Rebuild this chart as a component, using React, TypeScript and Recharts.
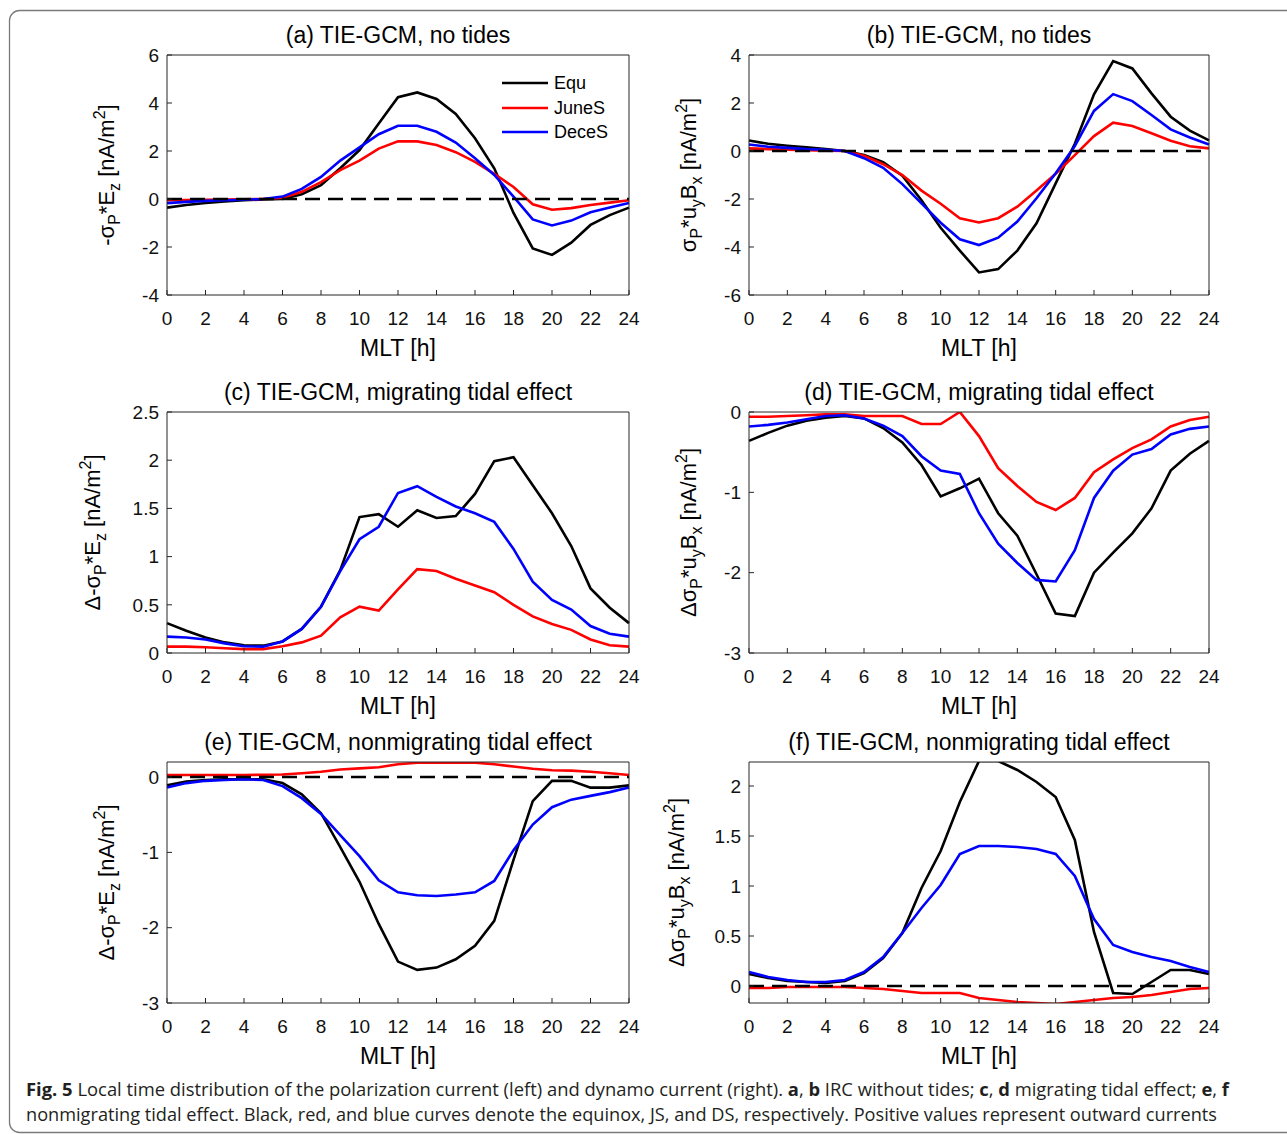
import React from "react";
import { LineChart, Line, XAxis, YAxis, ReferenceLine, Legend } from "recharts";

const FONT = "'Liberation Sans', Arial, Helvetica, sans-serif";

// local time axis
const hours = [0, 1, 2, 3, 4, 5, 6, 7, 8, 9, 10, 11, 12, 13, 14, 15, 16, 17, 18, 19, 20, 21, 22, 23, 24];
const xTicks = [0, 2, 4, 6, 8, 10, 12, 14, 16, 18, 20, 22, 24];

const seriesNames = ["Equ", "JuneS", "DeceS"];
const seriesColors = ["#000000", "#ff0000", "#0000ff"];

// (a) polarization current, no tides
const aEqu = [-0.36, -0.25, -0.17, -0.1, -0.05, -0.02, 0.0, 0.2, 0.58, 1.28, 2.04, 3.15, 4.24, 4.44, 4.17, 3.54, 2.53, 1.28, -0.58, -2.06, -2.33, -1.82, -1.08, -0.67, -0.36];
const aJune = [-0.05, -0.04, -0.03, -0.02, -0.01, 0.0, 0.05, 0.3, 0.7, 1.2, 1.6, 2.1, 2.4, 2.4, 2.25, 1.95, 1.55, 1.05, 0.5, -0.22, -0.45, -0.38, -0.25, -0.15, -0.05];
const aDece = [-0.17, -0.12, -0.08, -0.05, -0.03, 0.0, 0.1, 0.42, 0.92, 1.6, 2.15, 2.7, 3.05, 3.05, 2.8, 2.35, 1.7, 1.0, 0.1, -0.85, -1.1, -0.9, -0.55, -0.35, -0.17];

// (b) dynamo current, no tides
const bEqu = [0.44, 0.3, 0.22, 0.15, 0.08, 0.0, -0.17, -0.47, -1.03, -2.05, -3.2, -4.15, -5.06, -4.92, -4.15, -3.01, -1.35, 0.3, 2.36, 3.75, 3.44, 2.4, 1.43, 0.85, 0.44];
const bJune = [0.11, 0.08, 0.05, 0.03, 0.01, 0.0, -0.2, -0.55, -1.0, -1.65, -2.2, -2.8, -2.98, -2.8, -2.32, -1.65, -0.95, -0.17, 0.62, 1.18, 1.04, 0.74, 0.43, 0.2, 0.11];
const bDece = [0.27, 0.18, 0.13, 0.08, 0.05, 0.0, -0.3, -0.7, -1.38, -2.18, -2.99, -3.68, -3.92, -3.61, -2.94, -1.97, -0.93, 0.21, 1.67, 2.37, 2.08, 1.5, 0.9, 0.56, 0.27];

// (c) polarization current, migrating tidal effect
const cEqu = [0.31, 0.23, 0.16, 0.11, 0.08, 0.076, 0.12, 0.25, 0.48, 0.86, 1.41, 1.44, 1.31, 1.48, 1.4, 1.42, 1.65, 1.99, 2.03, 1.74, 1.45, 1.11, 0.67, 0.47, 0.31];
const cJune = [0.066, 0.066, 0.06, 0.05, 0.04, 0.04, 0.07, 0.11, 0.18, 0.37, 0.48, 0.44, 0.66, 0.87, 0.85, 0.77, 0.7, 0.63, 0.5, 0.38, 0.3, 0.24, 0.14, 0.08, 0.066];
const cDece = [0.17, 0.16, 0.14, 0.1, 0.07, 0.066, 0.12, 0.25, 0.48, 0.85, 1.18, 1.31, 1.66, 1.73, 1.62, 1.52, 1.45, 1.36, 1.08, 0.74, 0.55, 0.45, 0.28, 0.2, 0.17];

// (d) dynamo current, migrating tidal effect
const dEqu = [-0.36, -0.26, -0.17, -0.11, -0.07, -0.05, -0.08, -0.2, -0.38, -0.66, -1.05, -0.95, -0.83, -1.26, -1.54, -2.02, -2.51, -2.54, -2.0, -1.75, -1.51, -1.2, -0.73, -0.52, -0.36];
const dJune = [-0.06, -0.06, -0.05, -0.04, -0.03, -0.03, -0.05, -0.05, -0.05, -0.15, -0.15, 0.0, -0.3, -0.7, -0.92, -1.12, -1.22, -1.07, -0.75, -0.59, -0.45, -0.34, -0.18, -0.1, -0.06];
const dDece = [-0.18, -0.16, -0.13, -0.09, -0.05, -0.04, -0.08, -0.17, -0.3, -0.55, -0.73, -0.77, -1.26, -1.64, -1.88, -2.09, -2.11, -1.72, -1.07, -0.73, -0.53, -0.46, -0.28, -0.21, -0.18];

// (e) polarization current, nonmigrating tidal effect
const eEqu = [-0.11, -0.06, -0.04, -0.03, -0.03, -0.03, -0.08, -0.23, -0.48, -0.93, -1.39, -1.95, -2.45, -2.56, -2.53, -2.42, -2.24, -1.91, -1.1, -0.32, -0.05, -0.05, -0.14, -0.14, -0.11];
const eJune = [0.027, 0.027, 0.027, 0.027, 0.027, 0.03, 0.035, 0.05, 0.07, 0.1, 0.115, 0.13, 0.17, 0.19, 0.19, 0.19, 0.19, 0.17, 0.14, 0.11, 0.09, 0.085, 0.07, 0.05, 0.027];
const eDece = [-0.14, -0.08, -0.05, -0.04, -0.03, -0.04, -0.12, -0.28, -0.49, -0.77, -1.05, -1.37, -1.53, -1.57, -1.58, -1.56, -1.53, -1.38, -0.97, -0.63, -0.4, -0.3, -0.25, -0.2, -0.14];

// (f) dynamo current, nonmigrating tidal effect
const fEqu = [0.12, 0.08, 0.05, 0.04, 0.03, 0.05, 0.13, 0.28, 0.53, 0.98, 1.35, 1.84, 2.25, 2.25, 2.16, 2.04, 1.89, 1.46, 0.54, -0.07, -0.08, 0.04, 0.16, 0.16, 0.12];
const fJune = [-0.02, -0.02, -0.01, -0.01, -0.01, -0.01, -0.02, -0.03, -0.05, -0.07, -0.07, -0.07, -0.12, -0.14, -0.16, -0.17, -0.18, -0.16, -0.14, -0.12, -0.11, -0.09, -0.06, -0.03, -0.02];
const fDece = [0.14, 0.09, 0.06, 0.04, 0.04, 0.06, 0.14, 0.29, 0.53, 0.78, 1.01, 1.32, 1.4, 1.4, 1.39, 1.37, 1.32, 1.1, 0.67, 0.41, 0.34, 0.29, 0.25, 0.19, 0.14];

type Part = { t: string; s?: "sub" | "sup" };

const labelPolar: Part[] = [{ t: "-σ" }, { t: "P", s: "sub" }, { t: "*E" }, { t: "z", s: "sub" }, { t: " [nA/m" }, { t: "2", s: "sup" }, { t: "]" }];
const labelDynamo: Part[] = [{ t: "σ" }, { t: "P", s: "sub" }, { t: "*u" }, { t: "y", s: "sub" }, { t: "B" }, { t: "x", s: "sub" }, { t: " [nA/m" }, { t: "2", s: "sup" }, { t: "]" }];
const labelDPolar: Part[] = [{ t: "Δ-σ" }, { t: "P", s: "sub" }, { t: "*E" }, { t: "z", s: "sub" }, { t: " [nA/m" }, { t: "2", s: "sup" }, { t: "]" }];
const labelDDynamo: Part[] = [{ t: "Δσ" }, { t: "P", s: "sub" }, { t: "*u" }, { t: "y", s: "sub" }, { t: "B" }, { t: "x", s: "sub" }, { t: " [nA/m" }, { t: "2", s: "sup" }, { t: "]" }];

const panels = [
  { id: "a", title: "(a) TIE-GCM, no tides", yLabel: labelPolar, values: [aEqu, aJune, aDece], domain: [-4, 6], ticks: [-4, -2, 0, 2, 4, 6], zero: true, legend: true, x0: 167, y0: 55, w: 462, h: 240, labelX: 114 },
  { id: "b", title: "(b) TIE-GCM, no tides", yLabel: labelDynamo, values: [bEqu, bJune, bDece], domain: [-6, 4], ticks: [-6, -4, -2, 0, 2, 4], zero: true, legend: false, x0: 749, y0: 55, w: 460, h: 240, labelX: 696 },
  { id: "c", title: "(c) TIE-GCM, migrating tidal effect", yLabel: labelDPolar, values: [cEqu, cJune, cDece], domain: [0, 2.5], ticks: [0, 0.5, 1, 1.5, 2, 2.5], zero: false, legend: false, x0: 167, y0: 412, w: 462, h: 241, labelX: 100 },
  { id: "d", title: "(d) TIE-GCM, migrating tidal effect", yLabel: labelDDynamo, values: [dEqu, dJune, dDece], domain: [-3, 0], ticks: [-3, -2, -1, 0], zero: false, legend: false, x0: 749, y0: 412, w: 460, h: 241, labelX: 696 },
  { id: "e", title: "(e) TIE-GCM, nonmigrating tidal effect", yLabel: labelDPolar, values: [eEqu, eJune, eDece], domain: [-3, 0.2], ticks: [-3, -2, -1, 0], zero: true, legend: false, x0: 167, y0: 762, w: 462, h: 241, labelX: 114 },
  { id: "f", title: "(f) TIE-GCM, nonmigrating tidal effect", yLabel: labelDDynamo, values: [fEqu, fJune, fDece], domain: [-0.17, 2.24], ticks: [0, 0.5, 1, 1.5, 2], zero: true, legend: false, x0: 749, y0: 762, w: 460, h: 241, labelX: 684 },
];

const PAD_L = 100;
const PAD_T = 50;
const PAD_R = 15;
const PAD_B = 70;
const AXIS = "#262626";
const tickStyle = { fontSize: 19, fill: "#111", fontFamily: FONT };

function YLabel({ x, y, parts }: { x: number; y: number; parts: Part[] }) {
  let shift = 0;
  return (
    <text transform={`translate(${x},${y}) rotate(-90)`} textAnchor="middle" fontSize={22} fill="#000" fontFamily={FONT}>
      {parts.map((p, i) => {
        const target = p.s === "sub" ? 6 : p.s === "sup" ? -9 : 0;
        const dy = target - shift;
        shift = target;
        return (
          <tspan key={i} dy={dy} fontSize={p.s ? 16 : 22}>
            {p.t}
          </tspan>
        );
      })}
    </text>
  );
}

const renderLegend = (props: any) => {
  const items = [...(props.payload || [])].sort(
    (a: any, b: any) => seriesNames.indexOf(a.value) - seriesNames.indexOf(b.value)
  );
  return (
    <div style={{ fontFamily: FONT, fontSize: 18, color: "#000" }}>
      {items.map((it: any) => (
        <div key={it.value} style={{ display: "flex", alignItems: "center", height: 24.5 }}>
          <svg width={46} height={6}>
            <line x1={0} x2={46} y1={3} y2={3} stroke={it.color} strokeWidth={2.5} />
          </svg>
          <span style={{ marginLeft: 6, lineHeight: "18px" }}>{it.value}</span>
        </div>
      ))}
    </div>
  );
};

function Panel({ p }: { p: (typeof panels)[number] }) {
  const data = hours.map((h, i) => ({
    mlt: h,
    Equ: p.values[0][i],
    JuneS: p.values[1][i],
    DeceS: p.values[2][i],
  }));
  const left = p.x0 - PAD_L;
  const top = p.y0 - PAD_T;
  const width = p.w + PAD_L + PAD_R;
  const height = p.h + PAD_T + PAD_B;
  return (
    <div style={{ position: "absolute", left, top }}>
      <LineChart width={width} height={height} data={data} margin={{ top: PAD_T - 1, right: PAD_R - 1, bottom: 0, left: 0 }}>
        <XAxis
          dataKey="mlt"
          type="number"
          domain={[0, 24]}
          ticks={xTicks}
          interval={0}
          height={PAD_B}
          stroke={AXIS}
          tickSize={-5}
          tickMargin={22}
          tick={tickStyle}
          label={{ value: "MLT [h]", position: "insideBottom", offset: 9, fontSize: 23, fill: "#000", fontFamily: FONT }}
        />
        <XAxis
          xAxisId="top"
          dataKey="mlt"
          type="number"
          orientation="top"
          domain={[0, 24]}
          ticks={xTicks}
          interval={0}
          height={1}
          stroke={AXIS}
          tickSize={-5}
          tick={false}
          label={{ value: p.title, position: "top", offset: 11, fontSize: 23, fill: "#000", fontFamily: FONT }}
        />
        <YAxis
          type="number"
          domain={p.domain}
          ticks={p.ticks}
          interval={0}
          allowDataOverflow
          width={PAD_L}
          stroke={AXIS}
          tickSize={-5}
          tickMargin={13}
          tick={tickStyle}
          label={{ content: () => <YLabel x={p.labelX - left} y={PAD_T + p.h / 2} parts={p.yLabel} /> }}
        />
        <YAxis
          yAxisId="right"
          orientation="right"
          type="number"
          domain={p.domain}
          ticks={p.ticks}
          interval={0}
          allowDataOverflow
          width={1}
          stroke={AXIS}
          tickSize={-5}
          tick={false}
        />
        {seriesNames.map((name, k) => (
          <Line
            key={name}
            type="linear"
            dataKey={name}
            name={name}
            stroke={seriesColors[k]}
            strokeWidth={2.6}
            dot={false}
            activeDot={false}
            isAnimationActive={false}
          />
        ))}
        {p.zero && <ReferenceLine y={0} stroke="#000" strokeWidth={2.5} strokeDasharray="15 8" />}
        {p.legend && (
          <Legend
            layout="vertical"
            align="center"
            verticalAlign="middle"
            content={renderLegend}
            wrapperStyle={{ left: 502 - left, top: 71 - top, width: 120 }}
          />
        )}
      </LineChart>
    </div>
  );
}

export default function App() {
  return (
    <div style={{ position: "absolute", left: 0, top: 0, width: 1287, height: 1134, background: "#fff", overflow: "hidden" }}>
      <svg width={1287} height={1134} style={{ position: "absolute", left: 0, top: 0 }}>
        <rect x={9.5} y={10.5} width={1300} height={1122} rx={10} ry={10} fill="none" stroke="#7a7a7a" strokeWidth={1.3} />
        <text x={26} y={1096} fontSize={18} fill="#231f20" fontFamily="'Open Sans', sans-serif" textLength={1203} lengthAdjust="spacingAndGlyphs">
          <tspan fontWeight="bold">Fig. 5</tspan>
          <tspan>{"  Local time distribution of the polarization current (left) and dynamo current (right). "}</tspan>
          <tspan fontWeight="bold">a</tspan>
          <tspan>{", "}</tspan>
          <tspan fontWeight="bold">b</tspan>
          <tspan>{" IRC without tides; "}</tspan>
          <tspan fontWeight="bold">c</tspan>
          <tspan>{", "}</tspan>
          <tspan fontWeight="bold">d</tspan>
          <tspan>{" migrating tidal effect; "}</tspan>
          <tspan fontWeight="bold">e</tspan>
          <tspan>{", "}</tspan>
          <tspan fontWeight="bold">f</tspan>
        </text>
        <text x={26} y={1121} fontSize={18} fill="#231f20" fontFamily="'Open Sans', sans-serif" textLength={1191} lengthAdjust="spacingAndGlyphs">
          nonmigrating tidal effect. Black, red, and blue curves denote the equinox, JS, and DS, respectively. Positive values represent outward currents
        </text>
      </svg>
      {panels.map((p) => (
        <Panel key={p.id} p={p} />
      ))}
    </div>
  );
}
